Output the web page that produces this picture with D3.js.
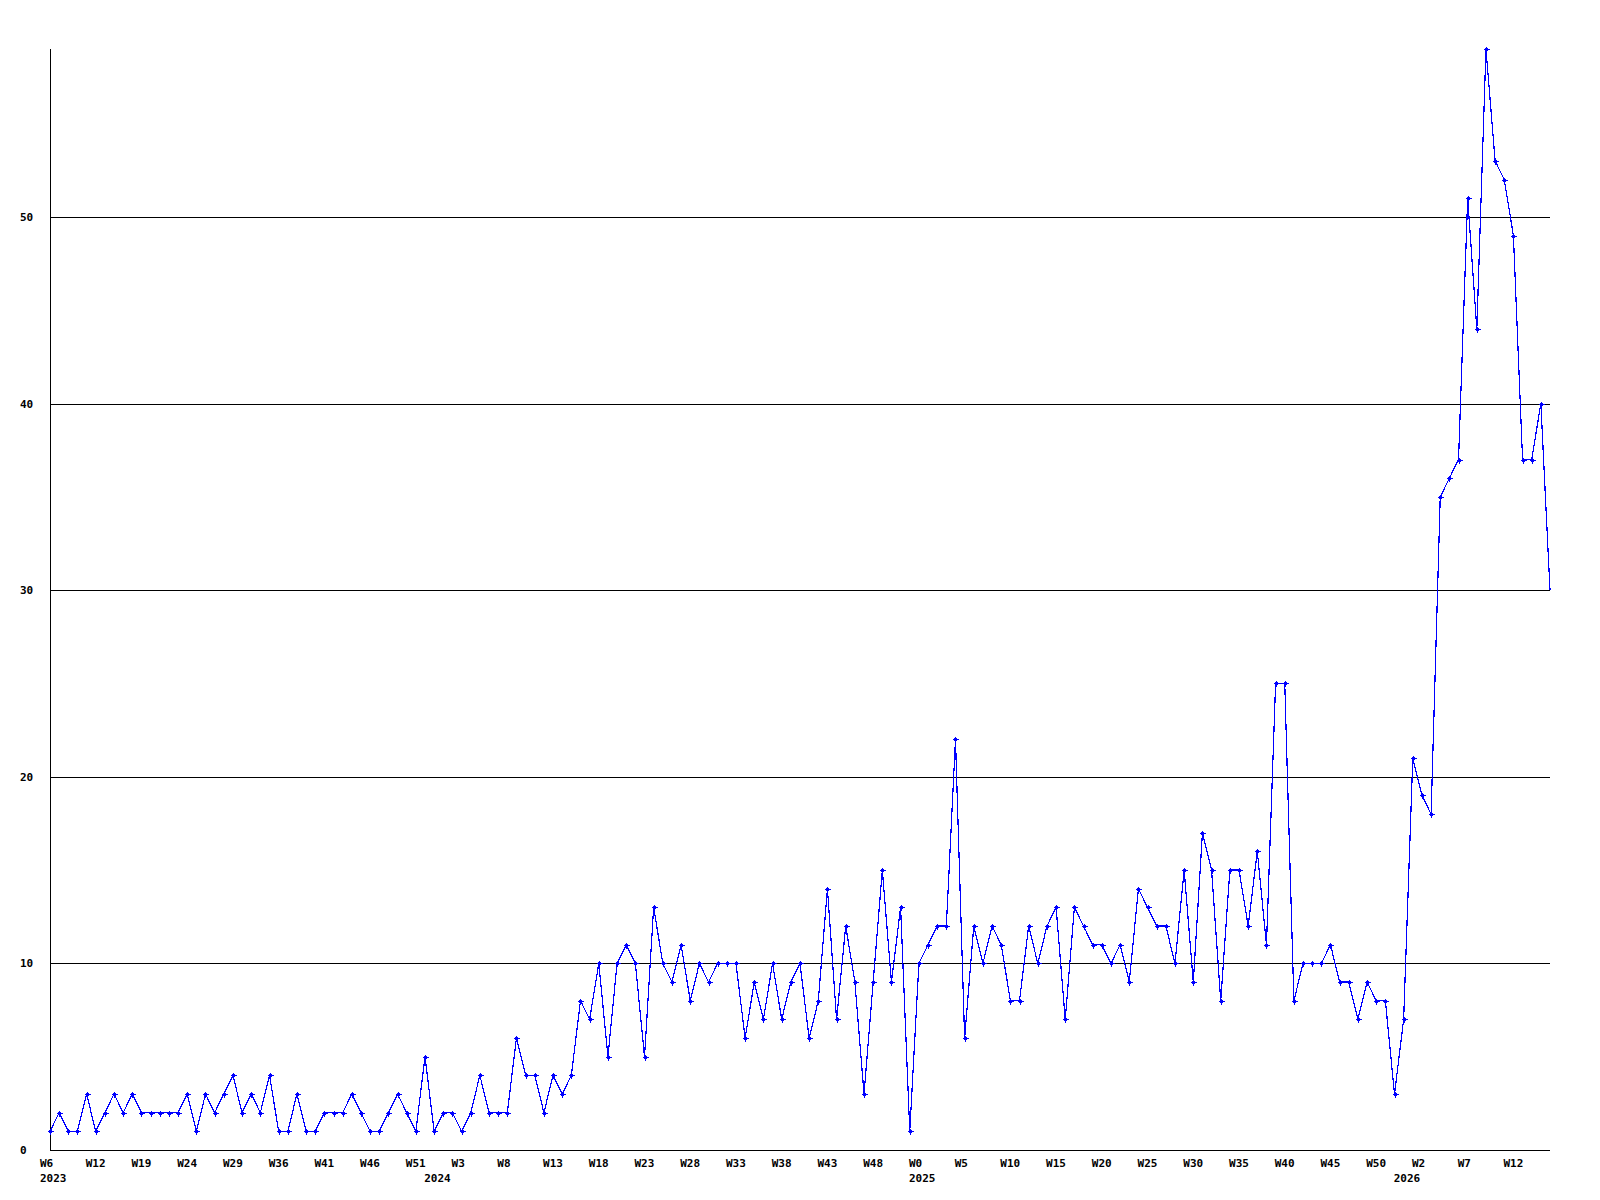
<!DOCTYPE html>
<html lang="en">
<head>
	<title>Weekly count</title>
	<script src="https://d3js.org/d3.v7.min.js" charset="utf-8"></script>
	<style>
	body { margin: 0; background: #fff; }
	text {
		font-family: "DejaVu Sans Mono", monospace;
		font-weight: bold;
		font-size: 11px;
		fill: #000;
	}
	</style>
</head>
<body>
	<script>
	// week numbers present in each year
	var weeks2023 = [6,7,9,10,11,12,13,15,17,18,19,20,21,22,23,24,25,26,27,28,29,30,32,33,35,36,37,38,39,40,41,42,43,44,45,46,47,48,49,50,51,52];
	var weeks2024 = [0,1,2,3,4,5,6,7,8,9,10,11,12,13,14,15,16,17,18,19,20,21,22,23,24,25,26,27,28,29,30,31,32,33,34,35,36,37,38,39,40,41,42,43,44,45,46,47,48,49,50,51,52];
	var weeks2025 = [0,1,2,3,4,5,6,7,8,9,10,11,12,13,14,15,16,17,18,19,20,21,22,23,24,25,26,27,28,29,30,31,32,33,34,35,36,37,38,39,40,41,42,43,44,45,46,47,48,49,50,51,52];
	var weeks2026 = [0,1,2,3,4,5,6,7,8,9,10,11,12,13,14,15,16];
	var years = [2023, 2024, 2025, 2026];

	// one value per week, in order
	var counts = [
		1,2,1,1,3,1,2,3,2,3, 2,2,2,2,2,3,1,3,2,3, 4,2,3,2,4,1,1,3,1,1, 2,2,2,3,2,1,1,2,3,2, 1,5,
		1,2,2,1,2,4,2,2,2,6, 4,4,2,4,3,4,8,7,10,5, 10,11,10,5,13,10,9,11,8,10, 9,10,10,10,6,9,7,10,7,9,
		10,6,8,14,7,12,9,3,9,15, 9,13,1,
		10,11,12,12,22,6,12,10,12,11, 8,8,12,10,12,13,7,13,12,11, 11,10,11,9,14,13,12,12,10,15,
		9,17,15,8,15,15,12,16,11,25, 25,8,10,10,10,11,9,9,7,9, 8,8,3,
		7,21,19,18,35,36,37,51,44,59, 53,52,49,37,37,40,30
	];

	var yTicks = [0, 10, 20, 30, 40, 50];

	drawChart();

	function drawChart() {
		// build the week list
		var weekList = [];
		[weeks2023, weeks2024, weeks2025, weeks2026].forEach(function(ws, yi) {
			ws.forEach(function(w) {
				weekList.push({ year: years[yi], week: w, key: years[yi] + "-W" + w });
			});
		});
		var data = weekList.map(function(d, i) {
			return { year: d.year, week: d.week, key: d.key, value: counts[i], index: i };
		});

		var w = 1600;
		var h = 1200;
		var plotLeft = 50, plotRight = 1550, plotTop = 49, plotBottom = 1150;

		var xScale = d3.scalePoint()
			.domain(data.map(function(d) { return d.key; }))
			.range([plotLeft, plotRight]);

		var yScale = d3.scaleLinear()
			.domain([0, d3.max(counts)])
			.range([plotBottom, plotTop]);

		var svg = d3.select("body")
			.append("svg")
			.attr("width", w)
			.attr("height", h);

		// horizontal grid lines
		svg.selectAll(".grid")
			.data(yTicks.filter(function(t) { return t > 0; }))
			.enter()
			.append("line")
			.attr("x1", plotLeft)
			.attr("x2", plotRight)
			.attr("y1", function(d) { return Math.round(yScale(d)) + 0.5; })
			.attr("y2", function(d) { return Math.round(yScale(d)) + 0.5; })
			.attr("stroke", "black")
			.attr("stroke-width", 1)
			.attr("shape-rendering", "crispEdges");

		// y labels
		svg.selectAll(".ylab")
			.data(yTicks)
			.enter()
			.append("text")
			.attr("x", 20)
			.attr("y", function(d) { return yScale(d) + 4; })
			.text(function(d) { return d; });

		// axes
		svg.append("line")
			.attr("x1", plotLeft + 0.5).attr("x2", plotLeft + 0.5)
			.attr("y1", plotTop).attr("y2", plotBottom + 1)
			.attr("stroke", "black")
			.attr("shape-rendering", "crispEdges");
		svg.append("line")
			.attr("x1", plotLeft).attr("x2", plotRight)
			.attr("y1", plotBottom + 0.5).attr("y2", plotBottom + 0.5)
			.attr("stroke", "black")
			.attr("shape-rendering", "crispEdges");

		// x labels every 5th week, text starts a little left of the point
		svg.selectAll(".xlab")
			.data(data.filter(function(d) { return d.index % 5 === 0; }))
			.enter()
			.append("text")
			.attr("x", function(d) { return xScale(d.key) - 10; })
			.attr("y", 1167)
			.text(function(d) { return "W" + d.week; });

		// year labels under first week of each year
		var firstOfYear = years.map(function(y) {
			return data.find(function(d) { return d.year === y; });
		});
		svg.selectAll(".yearlab")
			.data(firstOfYear)
			.enter()
			.append("text")
			.attr("x", function(d) { return xScale(d.key) - 10; })
			.attr("y", 1182)
			.text(function(d) { return d.year; });

		// the line
		var line = d3.line()
			.x(function(d) { return xScale(d.key); })
			.y(function(d) { return yScale(d.value); });

		svg.append("path")
			.datum(data)
			.attr("d", line)
			.attr("fill", "none")
			.attr("stroke", "#0000ff")
			.attr("stroke-width", 1.2)
			.attr("shape-rendering", "crispEdges");

		// markers (last week is still open, no marker)
		var marks = svg.selectAll(".mark")
			.data(data.slice(0, data.length - 1))
			.enter()
			.append("g")
			.attr("transform", function(d) {
				return "translate(" + Math.round(xScale(d.key)) + "," + Math.round(yScale(d.value)) + ")";
			});
		marks.append("path")
			.attr("d", "M-2.5,0.5H3.5M0.5,-2.5V3.5")
			.attr("stroke", "#0000ff")
			.attr("stroke-width", 1)
			.attr("shape-rendering", "crispEdges");
		marks.append("rect")
			.attr("x", -1).attr("y", -1)
			.attr("width", 3).attr("height", 3)
			.attr("fill", "#0000ff")
			.attr("shape-rendering", "crispEdges");
	}
	</script>
</body>
</html>
